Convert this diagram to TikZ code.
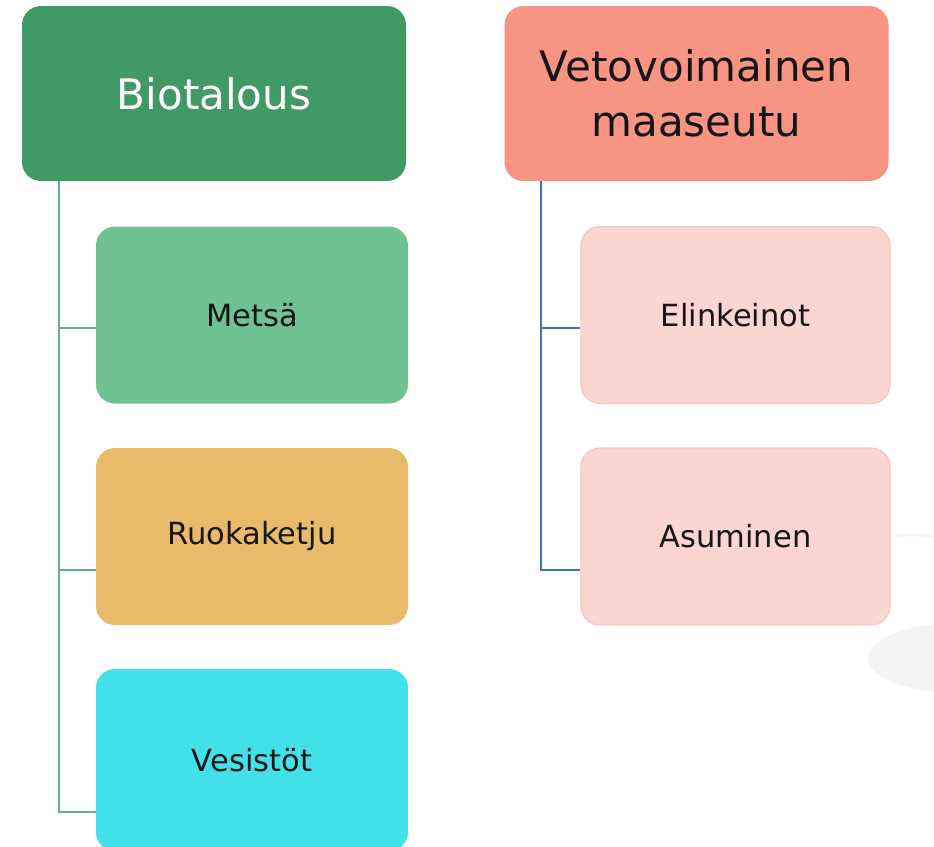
\documentclass[tikz,border=0pt]{standalone}
\usepackage{fontspec}
\setmainfont{DejaVu Sans}
\definecolor{biogreen}{HTML}{419966}
\definecolor{metsagreen}{HTML}{70C293}
\definecolor{ruokagold}{HTML}{E8BB6B}
\definecolor{vesicyan}{HTML}{42E1E9}
\definecolor{vetosalmon}{HTML}{F79483}
\definecolor{lightpink}{HTML}{FBD5D0}
\definecolor{pinkedge}{HTML}{F8C6C0}
\definecolor{linegreen}{HTML}{6DAE88}
\definecolor{lineblue}{HTML}{3C74B0}
\definecolor{textdark}{HTML}{161616}
\definecolor{ghost}{HTML}{F4F4F4}
\begin{document}
\begin{tikzpicture}[x=1pt,y=-1pt,
  box/.style={rectangle,rounded corners=19pt,inner sep=0pt,align=center},
  headbox/.style={box,minimum width=384pt,minimum height=175pt,font=\fontsize{42}{55}\selectfont},
  childbox/.style={box,minimum width=312pt,minimum height=177pt,font=\fontsize{30.5}{36}\selectfont,text=textdark},
  pinkbox/.style={childbox,fill=lightpink,draw=pinkedge,line width=1.2pt,minimum width=309pt},
  greenline/.style={draw=linegreen,line width=1.6pt},
  blueline/.style={draw=lineblue,line width=1.8pt}]
\useasboundingbox (0,0) rectangle (934,846);
\clip (0,0) rectangle (934,846);
\fill[white] (0,0) rectangle (934,846);
% faint background shapes
\fill[ghost] (960,658) ellipse [x radius=92pt, y radius=35pt];
\draw[ghost,line width=2pt] (896,536) .. controls (910,534) and (925,535) .. (934,537);
% nodes
\node[headbox,fill=biogreen,text=white] (bio) at (214,93.5) {Biotalous};
\node[childbox,fill=metsagreen] (metsa) at (252,315) {Metsä};
\node[childbox,fill=ruokagold] (ruoka) at (252,536.5) {Ruokaketju};
\node[childbox,fill=vesicyan,minimum height=182pt] (vesi) at (252,760) {Vesistöt};
\node[headbox,fill=vetosalmon,text=textdark] (veto) at (696.5,93.5) {Vetovoimainen\\maaseutu};
\node[pinkbox] (elin) at (735.5,315) {Elinkeinot};
\node[pinkbox] (asu) at (735.5,536.5) {Asuminen};
% connector coordinates
\coordinate (gtop) at (59,181);
\coordinate (g1) at (59,328);
\coordinate (g2) at (59,570);
\coordinate (g3) at (59,812);
\coordinate (btop) at (541,181);
\coordinate (b1) at (541,328);
\coordinate (b2) at (541,570);
% connectors
\draw[greenline] (gtop) -- (g3) -- (g3 -| vesi.west);
\draw[greenline] (g1) -- (g1 -| metsa.west);
\draw[greenline] (g2) -- (g2 -| ruoka.west);
\draw[blueline] (btop) -- (b2) -- (b2 -| asu.west);
\draw[blueline] (b1) -- (b1 -| elin.west);
\end{tikzpicture}
\end{document}
